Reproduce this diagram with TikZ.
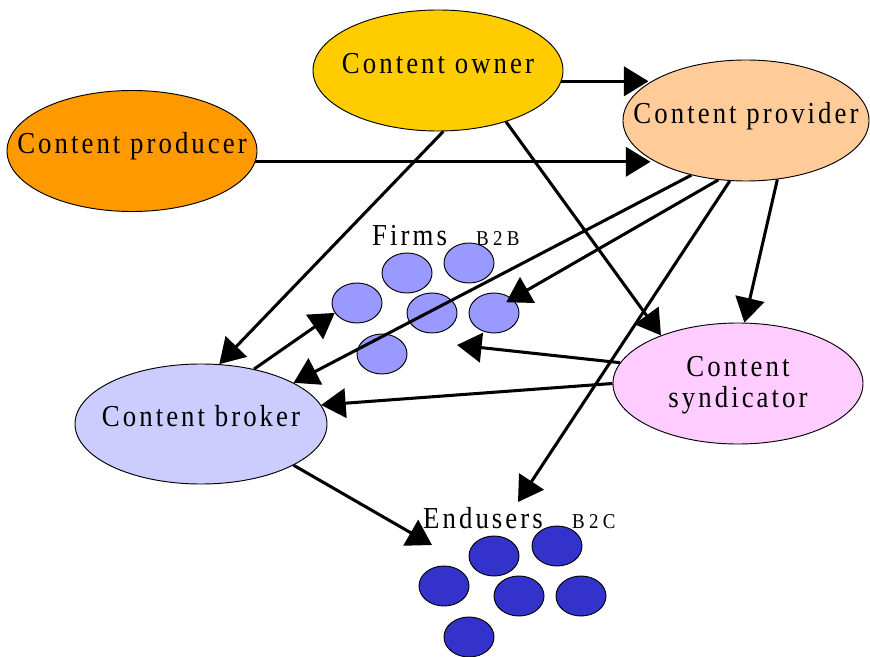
\documentclass[tikz,border=0pt]{standalone}
\usepackage{fontspec}
\setmainfont{Liberation Serif}
\newfontfamily\bigserif[LetterSpace=10,FakeStretch=0.88]{Liberation Serif}
\newfontfamily\smallserif[LetterSpace=20,FakeStretch=0.9]{Liberation Serif}
\usetikzlibrary{shapes.geometric,arrows.meta}
\definecolor{ownercol}{HTML}{FFCC00}
\definecolor{producercol}{HTML}{FF9900}
\definecolor{providercol}{HTML}{FFCC99}
\definecolor{brokercol}{HTML}{CCCCFF}
\definecolor{syndcol}{HTML}{FFCCFF}
\definecolor{firmcol}{HTML}{9999FF}
\definecolor{usercol}{HTML}{3333CC}

\begin{document}
\begin{tikzpicture}[x=0.03cm, y=-0.03cm,
    actor/.style={ellipse, draw, line width=0.8pt, minimum width=7.5cm, minimum height=3.63cm,
      inner xsep=-40pt, inner ysep=-6pt, align=center, text height=19.5pt, text depth=15.2pt,
      font=\bigserif\fontsize{26}{27.3}\selectfont},
    dot/.style={ellipse, draw, line width=0.8pt, minimum width=1.5cm, minimum height=1.2cm, inner sep=0pt},
    tag/.style={anchor=base west, inner sep=0pt, font=\bigserif\fontsize{26}{27.3}\selectfont},
    subtag/.style={anchor=base west, inner sep=0pt, font=\smallserif\fontsize{18}{20}\selectfont},
    arr/.style={line width=2.6pt, -{Triangle[length=21pt,width=25pt]}}]
        \useasboundingbox (0,0) rectangle (870,657);

        \node[actor, fill=ownercol] (owner) at (438,70.5) {Content owner};
        \node[actor, fill=providercol, minimum width=7.38cm] (provider) at (746,120.5) {Content provider};
        \node[actor, fill=producercol] (producer) at (132,151) {Content producer};
        \node[actor, fill=brokercol, minimum width=7.56cm, minimum height=3.6cm] (broker) at (201,424) {Content broker};
        \node[actor, fill=syndcol, text height=57pt] (syndicator) at (738,383.5) {Content\\syndicator};

        \node[tag] (firms) at (372,246) {Firms};
        \node[subtag] (b2b) at (476,246) {B2B};
        \node[tag] (endusers) at (423,528) {Endusers};
        \node[subtag] (b2c) at (572,528) {B2C};

        \foreach \i/\x/\y in {1/357/303, 2/407/273, 3/469/263, 4/432/313, 5/494/313, 6/382/354}
          \node[dot, fill=firmcol] (f\i) at (\x,\y) {};
        \foreach \i/\x/\y in {1/444/586, 2/494/556, 3/557/546, 4/519/596, 5/581/596, 6/469/637}
          \node[dot, fill=usercol] (u\i) at (\x,\y) {};

        \coordinate (uin) at (518,502);
        \coordinate (fin) at (457,345);
        \coordinate (uin2) at (432,545);

        \draw[arr] (owner.-5) -- (owner.-5 -| provider.159);
        \draw[arr] (producer.-5) -- (producer.-5 -| provider.202);
        \draw[arr] (owner.-85) -- (broker.73);
        \draw[arr] (owner.-37) -- (syndicator.148);
        \draw[arr] (provider.225) -- (broker.24);
        \draw[arr, shorten >=-6pt] (provider.245) -- (f5.38);
        \draw[arr] (provider.255) -- (uin);
        \draw[arr] (provider.-62) -- (syndicator.84);
        \draw[arr] (broker.46) -- (f1.204);
        \draw[arr] (syndicator.170) -- (fin);
        \draw[arr] (syndicator.180) -- (broker.9);
        \draw[arr] (broker.-24) -- (uin2);
      \end{tikzpicture}
\end{document}
